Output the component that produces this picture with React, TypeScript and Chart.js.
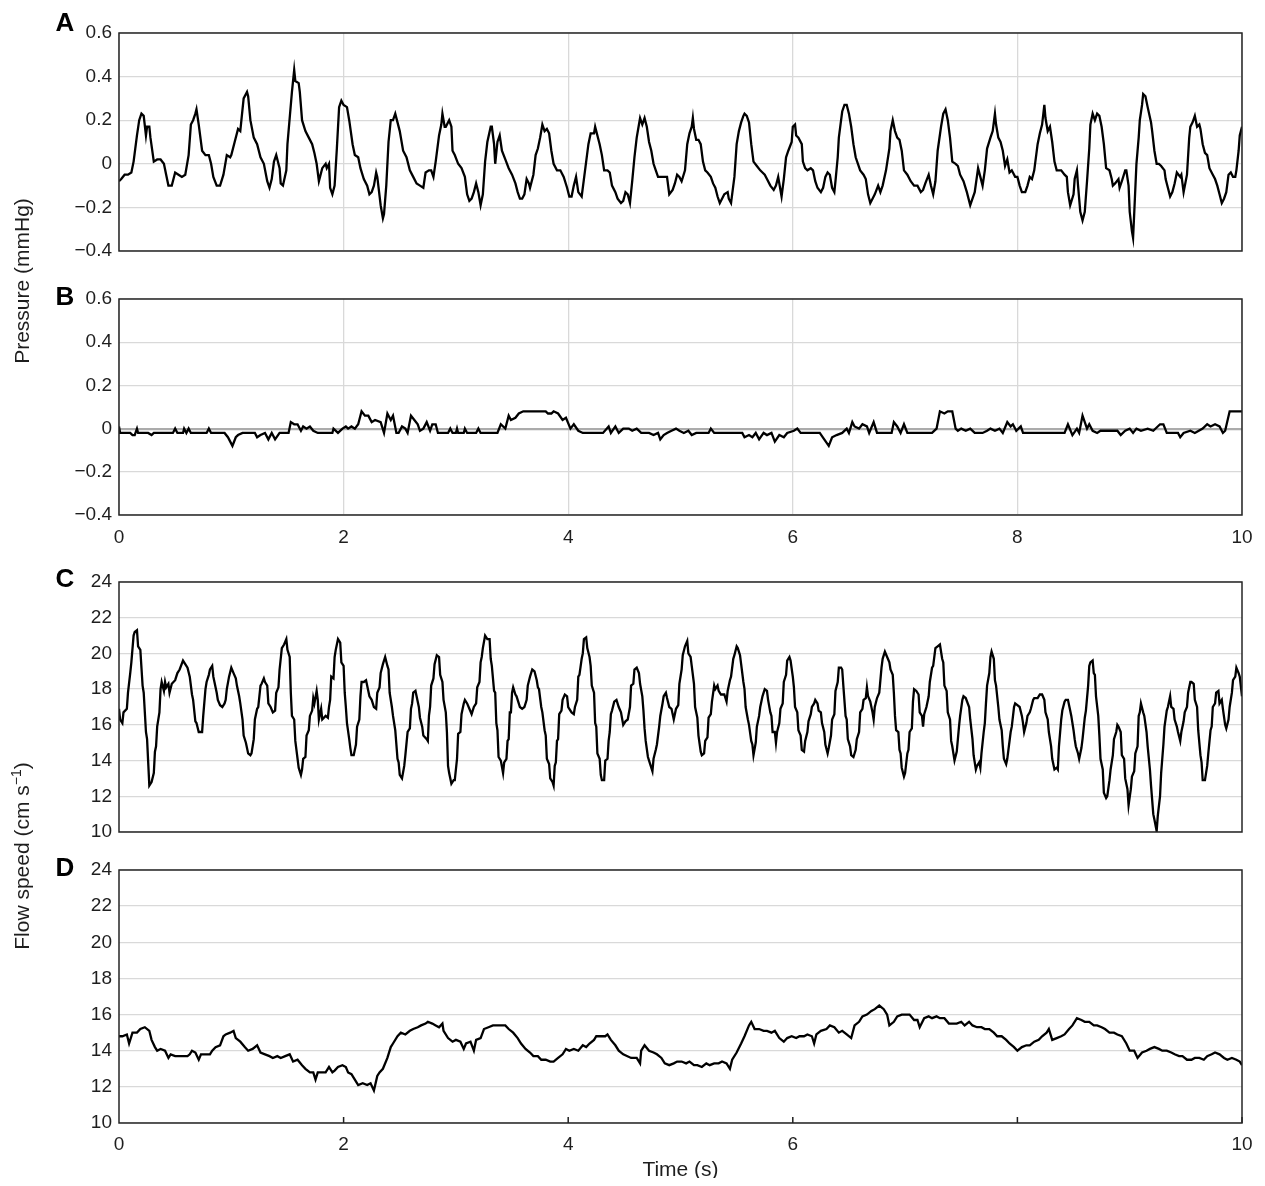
import { useEffect, useRef } from 'react';
import { Chart, registerables, type ChartConfiguration, type Plugin } from 'chart.js';

Chart.register(...registerables);

const WIDTH = 1249;
const HEIGHT = 1170;
const FONT = '"Liberation Sans", Arial, Helvetica, sans-serif';
const GRID = '#d9d9d9';
const INK = '#1e1e1e';

const timeTicks = [0, 2, 4, 6, 8, 10];
const pressureTicks = [-0.4, -0.2, 0, 0.2, 0.4, 0.6];
const flowTicks = [10, 12, 14, 16, 18, 20, 22, 24];

// [time (s), pressure (mmHg)]
const pressureA: number[][] = [
  [0, -0.08], [0.02, -0.07], [0.05, -0.05], [0.08, -0.05], [0.11, -0.04], [0.13, 0.01], [0.16, 0.13], [0.18, 0.2], [0.2, 0.23], [0.22, 0.22],
  [0.24, 0.13], [0.25, 0.17], [0.27, 0.17], [0.28, 0.12], [0.31, 0.01], [0.34, 0.02], [0.37, 0.02], [0.4, 0], [0.42, -0.05], [0.44, -0.1],
  [0.47, -0.1], [0.5, -0.04], [0.53, -0.05], [0.56, -0.06], [0.59, -0.05], [0.62, 0.04], [0.64, 0.18], [0.66, 0.2], [0.68, 0.23], [0.69, 0.25],
  [0.71, 0.18], [0.74, 0.06], [0.77, 0.04], [0.8, 0.04], [0.82, 0], [0.84, -0.06], [0.87, -0.1], [0.9, -0.1], [0.93, -0.05], [0.96, 0.04],
  [0.99, 0.03], [1.0, 0.04], [1.03, 0.1], [1.06, 0.16], [1.08, 0.15], [1.09, 0.2], [1.11, 0.3], [1.14, 0.33], [1.15, 0.31], [1.17, 0.2],
  [1.2, 0.12], [1.23, 0.09], [1.26, 0.03], [1.29, 0], [1.32, -0.08], [1.34, -0.11], [1.36, -0.07], [1.38, 0.01], [1.4, 0.04], [1.43, -0.02],
  [1.44, -0.09], [1.46, -0.1], [1.49, -0.03], [1.5, 0.09], [1.52, 0.21], [1.54, 0.33], [1.56, 0.43], [1.57, 0.38], [1.6, 0.37], [1.61, 0.33],
  [1.63, 0.2], [1.66, 0.15], [1.69, 0.12], [1.72, 0.09], [1.74, 0.05], [1.76, 0], [1.78, -0.08], [1.79, -0.06], [1.81, -0.02], [1.84, 0],
  [1.85, -0.02], [1.87, 0], [1.88, -0.11], [1.9, -0.14], [1.92, -0.1], [1.94, 0.07], [1.96, 0.26], [1.98, 0.29], [2.0, 0.27], [2.03, 0.26],
  [2.05, 0.2], [2.08, 0.09], [2.1, 0.04], [2.13, 0.03], [2.15, -0.02], [2.18, -0.07], [2.21, -0.1], [2.23, -0.14], [2.25, -0.13], [2.27, -0.1],
  [2.29, -0.04], [2.3, -0.06], [2.33, -0.19], [2.35, -0.25], [2.36, -0.23], [2.38, -0.1], [2.4, 0.1], [2.42, 0.2], [2.44, 0.2], [2.46, 0.23],
  [2.48, 0.19], [2.5, 0.15], [2.53, 0.06], [2.56, 0.03], [2.59, -0.03], [2.62, -0.06], [2.65, -0.09], [2.68, -0.1], [2.71, -0.11], [2.73, -0.04],
  [2.76, -0.03], [2.78, -0.03], [2.8, -0.06], [2.82, 0.01], [2.85, 0.13], [2.87, 0.18], [2.88, 0.23], [2.9, 0.17], [2.91, 0.17], [2.94, 0.2],
  [2.96, 0.17], [2.97, 0.06], [2.99, 0.04], [3.02, 0], [3.05, -0.02], [3.08, -0.06], [3.1, -0.14], [3.12, -0.17], [3.14, -0.16], [3.16, -0.13],
  [3.18, -0.09], [3.2, -0.13], [3.22, -0.19], [3.24, -0.14], [3.26, 0.01], [3.28, 0.1], [3.31, 0.17], [3.32, 0.17], [3.34, 0.09], [3.35, 0],
  [3.37, 0.1], [3.39, 0.13], [3.41, 0.06], [3.44, 0.02], [3.47, -0.02], [3.5, -0.05], [3.53, -0.09], [3.55, -0.13], [3.57, -0.16], [3.59, -0.16],
  [3.61, -0.14], [3.63, -0.07], [3.65, -0.09], [3.66, -0.11], [3.69, -0.05], [3.71, 0.04], [3.73, 0.07], [3.75, 0.12], [3.77, 0.18], [3.79, 0.15],
  [3.81, 0.16], [3.83, 0.14], [3.85, 0.06], [3.87, 0], [3.9, -0.03], [3.93, -0.03], [3.96, -0.06], [3.99, -0.11], [4.01, -0.15], [4.03, -0.15],
  [4.05, -0.1], [4.07, -0.06], [4.09, -0.13], [4.12, -0.15], [4.14, -0.07], [4.16, 0.01], [4.18, 0.09], [4.2, 0.14], [4.23, 0.14], [4.24, 0.17],
  [4.26, 0.13], [4.28, 0.09], [4.3, 0.04], [4.32, -0.03], [4.35, -0.03], [4.37, -0.04], [4.39, -0.1], [4.42, -0.13], [4.44, -0.16], [4.47, -0.18],
  [4.49, -0.17], [4.51, -0.13], [4.53, -0.14], [4.55, -0.18], [4.57, -0.08], [4.59, 0.03], [4.61, 0.12], [4.63, 0.18], [4.64, 0.21], [4.66, 0.18],
  [4.68, 0.21], [4.7, 0.17], [4.72, 0.1], [4.74, 0.06], [4.76, 0], [4.78, -0.03], [4.8, -0.06], [4.82, -0.06], [4.85, -0.06], [4.88, -0.06],
  [4.89, -0.1], [4.9, -0.14], [4.93, -0.12], [4.95, -0.09], [4.97, -0.05], [4.99, -0.06], [5.01, -0.08], [5.04, -0.03], [5.06, 0.09], [5.08, 0.14],
  [5.1, 0.17], [5.11, 0.21], [5.12, 0.16], [5.14, 0.11], [5.16, 0.11], [5.18, 0.09], [5.2, 0.01], [5.22, -0.03], [5.24, -0.04], [5.27, -0.06],
  [5.29, -0.09], [5.31, -0.11], [5.33, -0.15], [5.35, -0.18], [5.37, -0.16], [5.39, -0.14], [5.42, -0.13], [5.43, -0.16], [5.45, -0.18], [5.48, -0.06],
  [5.5, 0.09], [5.52, 0.15], [5.54, 0.19], [5.56, 0.22], [5.57, 0.23], [5.59, 0.22], [5.61, 0.19], [5.63, 0.09], [5.65, 0.01], [5.68, -0.01],
  [5.71, -0.03], [5.73, -0.04], [5.75, -0.05], [5.77, -0.07], [5.8, -0.1], [5.83, -0.12], [5.85, -0.1], [5.87, -0.06], [5.89, -0.12], [5.9, -0.15],
  [5.92, -0.07], [5.94, 0.03], [5.96, 0.06], [5.99, 0.1], [6.0, 0.17], [6.02, 0.18], [6.03, 0.13], [6.05, 0.12], [6.08, 0.09], [6.09, 0.01],
  [6.11, -0.02], [6.13, -0.03], [6.16, -0.02], [6.18, -0.03], [6.2, -0.08], [6.22, -0.11], [6.25, -0.13], [6.27, -0.11], [6.29, -0.06], [6.31, -0.04],
  [6.33, -0.05], [6.35, -0.11], [6.37, -0.13], [6.38, -0.08], [6.4, 0.03], [6.41, 0.12], [6.43, 0.2], [6.44, 0.24], [6.46, 0.27], [6.48, 0.27],
  [6.5, 0.23], [6.52, 0.17], [6.54, 0.09], [6.56, 0.03], [6.58, 0], [6.6, -0.03], [6.63, -0.05], [6.65, -0.07], [6.67, -0.14], [6.69, -0.18],
  [6.71, -0.16], [6.73, -0.14], [6.76, -0.1], [6.78, -0.13], [6.8, -0.1], [6.83, -0.03], [6.86, 0.07], [6.87, 0.15], [6.89, 0.2], [6.91, 0.15],
  [6.93, 0.12], [6.95, 0.11], [6.97, 0.06], [6.99, -0.03], [7.02, -0.05], [7.05, -0.08], [7.08, -0.1], [7.11, -0.1], [7.14, -0.13], [7.16, -0.12],
  [7.18, -0.09], [7.21, -0.05], [7.23, -0.1], [7.25, -0.14], [7.27, -0.08], [7.29, 0.06], [7.32, 0.17], [7.34, 0.23], [7.36, 0.25], [7.38, 0.2],
  [7.4, 0.12], [7.42, 0.01], [7.45, 0], [7.47, -0.01], [7.49, -0.05], [7.52, -0.08], [7.55, -0.13], [7.58, -0.19], [7.6, -0.16], [7.62, -0.13],
  [7.65, -0.02], [7.67, -0.06], [7.69, -0.1], [7.71, -0.03], [7.73, 0.07], [7.76, 0.12], [7.78, 0.15], [7.8, 0.23], [7.81, 0.18], [7.83, 0.12],
  [7.85, 0.1], [7.87, 0.06], [7.89, -0.01], [7.91, 0.02], [7.93, -0.04], [7.95, -0.03], [7.98, -0.06], [8.0, -0.06], [8.02, -0.1], [8.04, -0.13],
  [8.07, -0.13], [8.09, -0.1], [8.11, -0.06], [8.13, -0.07], [8.15, -0.03], [8.18, 0.09], [8.2, 0.14], [8.22, 0.18], [8.24, 0.27], [8.25, 0.21],
  [8.27, 0.15], [8.29, 0.17], [8.31, 0.1], [8.33, 0.01], [8.35, -0.03], [8.37, -0.03], [8.39, -0.03], [8.42, -0.05], [8.44, -0.06], [8.45, -0.13],
  [8.47, -0.19], [8.5, -0.14], [8.51, -0.07], [8.53, -0.03], [8.54, -0.1], [8.56, -0.22], [8.58, -0.26], [8.6, -0.22], [8.62, -0.08], [8.64, 0.07],
  [8.65, 0.18], [8.67, 0.23], [8.69, 0.2], [8.71, 0.23], [8.73, 0.22], [8.75, 0.17], [8.77, 0.09], [8.79, -0.02], [8.82, -0.03], [8.84, -0.07],
  [8.85, -0.1], [8.87, -0.09], [8.9, -0.07], [8.91, -0.11], [8.93, -0.08], [8.96, -0.03], [8.97, -0.03], [8.99, -0.1], [9.0, -0.22], [9.02, -0.31],
  [9.03, -0.34], [9.04, -0.23], [9.06, 0], [9.08, 0.12], [9.09, 0.2], [9.11, 0.27], [9.12, 0.32], [9.14, 0.31], [9.16, 0.26], [9.19, 0.19],
  [9.2, 0.15], [9.22, 0.06], [9.24, 0], [9.26, 0], [9.28, -0.01], [9.31, -0.03], [9.32, -0.07], [9.34, -0.11], [9.36, -0.15], [9.38, -0.13],
  [9.4, -0.09], [9.42, -0.04], [9.45, -0.06], [9.46, -0.05], [9.48, -0.13], [9.51, -0.05], [9.53, 0.12], [9.54, 0.17], [9.56, 0.19], [9.58, 0.22],
  [9.6, 0.17], [9.62, 0.18], [9.63, 0.16], [9.65, 0.09], [9.67, 0.05], [9.69, 0.04], [9.71, -0.02], [9.74, -0.05], [9.76, -0.07], [9.78, -0.1],
  [9.8, -0.14], [9.82, -0.18], [9.84, -0.16], [9.86, -0.13], [9.88, -0.05], [9.9, -0.04], [9.92, -0.06], [9.94, -0.06], [9.95, -0.03], [9.97, 0.06],
  [9.98, 0.13], [10, 0.17],
];

const pressureB: number[][] = [
  [0, 0.01], [0.01, -0.02], [0.1, -0.02], [0.12, -0.03], [0.14, -0.03], [0.16, 0], [0.17, -0.02], [0.26, -0.02], [0.29, -0.03], [0.31, -0.02],
  [0.48, -0.02], [0.5, 0], [0.52, -0.02], [0.57, -0.02], [0.58, 0], [0.6, -0.02], [0.62, 0], [0.64, -0.02], [0.78, -0.02], [0.8, 0],
  [0.82, -0.02], [0.94, -0.02], [0.97, -0.04], [1.01, -0.08], [1.04, -0.04], [1.06, -0.03], [1.1, -0.02], [1.21, -0.02], [1.23, -0.04], [1.26, -0.03],
  [1.3, -0.02], [1.33, -0.05], [1.36, -0.02], [1.39, -0.05], [1.43, -0.02], [1.51, -0.02], [1.53, 0.03], [1.56, 0.02], [1.59, 0.02], [1.62, -0.01],
  [1.64, 0.01], [1.67, 0], [1.7, 0.01], [1.73, -0.01], [1.77, -0.02], [1.9, -0.02], [1.91, 0], [1.95, -0.02], [1.99, 0], [2.02, 0.01],
  [2.04, 0], [2.07, 0.01], [2.1, 0], [2.13, 0.02], [2.16, 0.08], [2.19, 0.06], [2.22, 0.06], [2.25, 0.03], [2.28, 0.04], [2.33, 0.03],
  [2.36, -0.02], [2.39, 0.07], [2.42, 0.04], [2.44, 0.06], [2.47, -0.02], [2.49, -0.02], [2.52, 0.01], [2.55, 0], [2.57, -0.02], [2.6, 0.06],
  [2.63, 0.04], [2.66, 0.02], [2.68, -0.01], [2.71, 0], [2.74, 0.03], [2.77, -0.01], [2.79, 0.02], [2.82, 0.02], [2.84, -0.02], [2.93, -0.02],
  [2.95, 0], [2.97, -0.02], [3.0, -0.02], [3.01, 0], [3.02, -0.02], [3.07, -0.02], [3.08, 0], [3.1, -0.02], [3.18, -0.02], [3.2, 0],
  [3.22, -0.02], [3.37, -0.02], [3.4, 0.02], [3.44, 0], [3.47, 0.06], [3.49, 0.04], [3.53, 0.05], [3.56, 0.07], [3.6, 0.08], [3.8, 0.08],
  [3.82, 0.07], [3.85, 0.07], [3.87, 0.08], [3.91, 0.07], [3.95, 0.04], [3.98, 0.05], [4.02, 0], [4.05, 0.02], [4.09, -0.01], [4.13, -0.02],
  [4.31, -0.02], [4.36, 0.01], [4.38, -0.02], [4.42, 0.01], [4.45, -0.02], [4.49, 0], [4.54, 0], [4.57, -0.01], [4.61, 0], [4.65, -0.02],
  [4.72, -0.02], [4.76, -0.03], [4.8, -0.02], [4.82, -0.05], [4.85, -0.03], [4.88, -0.02], [4.92, -0.01], [4.96, 0], [4.99, -0.01], [5.03, -0.02],
  [5.07, -0.01], [5.1, -0.03], [5.14, -0.02], [5.25, -0.02], [5.27, 0], [5.3, -0.02], [5.55, -0.02], [5.57, -0.04], [5.61, -0.03], [5.64, -0.04],
  [5.67, -0.02], [5.7, -0.05], [5.74, -0.02], [5.77, -0.03], [5.81, -0.02], [5.84, -0.06], [5.88, -0.03], [5.92, -0.04], [5.95, -0.02], [6.01, -0.01],
  [6.04, 0], [6.07, -0.02], [6.24, -0.02], [6.28, -0.05], [6.32, -0.08], [6.35, -0.04], [6.39, -0.03], [6.44, -0.02], [6.48, 0], [6.5, -0.02],
  [6.53, 0.03], [6.55, 0.01], [6.59, 0], [6.62, 0.02], [6.66, 0.01], [6.68, -0.02], [6.72, 0.03], [6.75, -0.02], [6.88, -0.02], [6.9, 0.03],
  [6.93, 0.01], [6.96, -0.02], [6.99, 0.02], [7.02, -0.02], [7.24, -0.02], [7.28, 0], [7.31, 0.08], [7.35, 0.07], [7.38, 0.08], [7.42, 0.08],
  [7.45, 0], [7.47, -0.01], [7.5, 0], [7.54, -0.01], [7.58, 0], [7.62, -0.02], [7.69, -0.02], [7.73, -0.01], [7.76, 0], [7.8, -0.01],
  [7.84, 0], [7.87, -0.02], [7.91, 0.03], [7.94, 0.01], [7.96, 0.02], [7.99, -0.01], [8.03, 0.01], [8.05, -0.02], [8.42, -0.02], [8.45, 0.02],
  [8.49, -0.03], [8.53, 0], [8.55, -0.02], [8.58, 0.06], [8.62, 0], [8.64, 0.02], [8.67, -0.01], [8.71, -0.02], [8.74, -0.01], [8.89, -0.01],
  [8.92, -0.03], [8.96, -0.01], [9.0, 0], [9.03, -0.02], [9.06, 0], [9.1, -0.01], [9.16, 0], [9.21, -0.01], [9.27, 0.02], [9.3, 0.02],
  [9.33, -0.02], [9.43, -0.02], [9.45, -0.04], [9.48, -0.02], [9.54, -0.01], [9.58, -0.02], [9.65, 0], [9.69, 0.02], [9.72, 0.01], [9.76, 0.02],
  [9.8, 0.01], [9.83, -0.02], [9.85, -0.01], [9.89, 0.08], [10, 0.08],
];

// [time (s), flow speed (cm/s)]
const flowC: number[][] = [
  [0, 16.9], [0.01, 16.3], [0.03, 16.1], [0.04, 16.7], [0.07, 16.9], [0.08, 17.8], [0.1, 18.9], [0.11, 19.5], [0.13, 21.0], [0.14, 21.2],
  [0.16, 21.3], [0.17, 20.4], [0.19, 20.2], [0.21, 18.2], [0.22, 17.8], [0.24, 15.6], [0.25, 15.2], [0.26, 13.9], [0.27, 12.6], [0.29, 12.8],
  [0.31, 13.3], [0.32, 14.5], [0.33, 14.8], [0.34, 15.9], [0.36, 16.7], [0.37, 18.0], [0.38, 18.4], [0.4, 17.9], [0.41, 18.4], [0.42, 18.1],
  [0.44, 18.3], [0.45, 17.8], [0.47, 18.3], [0.5, 18.5], [0.52, 18.9], [0.54, 19.1], [0.57, 19.6], [0.59, 19.4], [0.61, 19.2], [0.63, 18.7],
  [0.65, 17.7], [0.66, 17.4], [0.68, 16.2], [0.69, 16.1], [0.71, 15.6], [0.74, 15.6], [0.75, 16.5], [0.77, 18.0], [0.78, 18.4], [0.8, 18.8],
  [0.81, 19.1], [0.83, 19.3], [0.84, 18.7], [0.85, 18.4], [0.87, 17.8], [0.88, 17.4], [0.9, 17.1], [0.92, 17.0], [0.94, 17.2], [0.95, 17.4],
  [0.96, 18.0], [0.98, 18.7], [1.0, 19.2], [1.02, 18.9], [1.04, 18.6], [1.05, 18.2], [1.07, 17.6], [1.08, 17.2], [1.1, 16.3], [1.11, 15.4],
  [1.13, 15.0], [1.15, 14.4], [1.17, 14.3], [1.18, 14.4], [1.2, 15.2], [1.21, 16.3], [1.23, 16.9], [1.24, 17.0], [1.26, 18.2], [1.27, 18.3],
  [1.29, 18.6], [1.3, 18.4], [1.32, 18.2], [1.33, 17.2], [1.35, 17.0], [1.37, 16.7], [1.39, 16.8], [1.4, 17.8], [1.42, 18.1], [1.43, 19.1],
  [1.45, 20.3], [1.47, 20.5], [1.49, 20.8], [1.5, 20.2], [1.52, 19.8], [1.53, 17.8], [1.54, 16.5], [1.56, 16.3], [1.57, 15.1], [1.58, 14.6],
  [1.6, 13.6], [1.62, 13.2], [1.63, 13.5], [1.64, 14.1], [1.66, 14.2], [1.67, 15.4], [1.69, 15.7], [1.7, 16.5], [1.72, 16.8], [1.73, 17.5],
  [1.74, 17.2], [1.76, 17.9], [1.77, 17.4], [1.78, 16.3], [1.8, 16.9], [1.81, 16.3], [1.84, 16.5], [1.86, 16.4], [1.87, 17.0], [1.88, 17.4],
  [1.89, 18.7], [1.91, 18.6], [1.92, 19.8], [1.93, 20.2], [1.95, 20.8], [1.97, 20.6], [1.98, 19.5], [2.0, 19.3], [2.01, 17.8], [2.02, 17.0],
  [2.03, 16.1], [2.05, 15.2], [2.06, 14.7], [2.07, 14.3], [2.09, 14.3], [2.11, 14.9], [2.12, 15.9], [2.14, 16.3], [2.15, 17.6], [2.16, 18.4],
  [2.18, 18.4], [2.2, 18.5], [2.22, 17.9], [2.23, 17.6], [2.25, 17.4], [2.27, 17.0], [2.29, 16.9], [2.3, 17.8], [2.32, 18.1], [2.33, 18.9],
  [2.35, 19.4], [2.37, 19.8], [2.39, 19.3], [2.4, 19.1], [2.41, 17.8], [2.43, 17.0], [2.44, 16.5], [2.46, 15.7], [2.47, 14.9], [2.48, 14.1],
  [2.49, 13.9], [2.5, 13.2], [2.52, 13.0], [2.54, 13.7], [2.55, 14.3], [2.57, 15.6], [2.59, 15.8], [2.6, 16.9], [2.61, 17.2], [2.62, 17.8],
  [2.64, 17.9], [2.65, 17.6], [2.67, 17.0], [2.68, 16.4], [2.7, 15.9], [2.71, 15.4], [2.74, 15.2], [2.75, 15.1], [2.76, 16.5], [2.77, 17.0],
  [2.78, 18.2], [2.8, 18.6], [2.81, 19.4], [2.83, 19.9], [2.85, 19.8], [2.86, 18.8], [2.88, 18.4], [2.89, 17.4], [2.91, 16.7], [2.92, 15.6],
  [2.93, 13.7], [2.94, 13.3], [2.96, 12.7], [2.98, 12.9], [2.99, 12.9], [3.01, 14.1], [3.02, 15.5], [3.04, 15.6], [3.05, 16.6], [3.07, 17.2],
  [3.08, 17.4], [3.1, 17.2], [3.12, 16.9], [3.14, 16.6], [3.16, 17.0], [3.18, 17.2], [3.19, 18.1], [3.21, 18.4], [3.22, 19.5], [3.23, 19.8],
  [3.24, 20.3], [3.26, 21.0], [3.28, 20.8], [3.3, 20.8], [3.31, 19.7], [3.32, 19.3], [3.34, 17.9], [3.35, 17.8], [3.36, 16.1], [3.37, 15.7],
  [3.38, 14.2], [3.4, 14.0], [3.42, 13.3], [3.43, 13.9], [3.45, 14.1], [3.46, 15.1], [3.47, 15.2], [3.48, 16.7], [3.49, 16.7], [3.5, 17.8],
  [3.51, 18.1], [3.53, 17.7], [3.54, 17.6], [3.57, 17.0], [3.59, 16.9], [3.61, 17.0], [3.63, 17.4], [3.64, 18.2], [3.66, 18.7], [3.68, 19.1],
  [3.7, 19.0], [3.72, 18.5], [3.73, 18.1], [3.74, 18.0], [3.76, 17.0], [3.77, 16.7], [3.79, 15.7], [3.8, 15.4], [3.81, 14.1], [3.83, 13.8],
  [3.84, 13.0], [3.86, 12.8], [3.87, 12.6], [3.88, 13.7], [3.89, 13.9], [3.9, 15.1], [3.91, 15.2], [3.92, 16.6], [3.94, 16.8], [3.95, 17.4],
  [3.97, 17.7], [3.99, 17.6], [4.0, 17.0], [4.03, 16.7], [4.05, 16.6], [4.06, 17.0], [4.08, 17.4], [4.09, 18.7], [4.1, 18.8], [4.12, 19.7],
  [4.13, 20.0], [4.14, 20.8], [4.16, 20.9], [4.17, 20.3], [4.19, 19.8], [4.2, 19.3], [4.21, 18.2], [4.23, 17.8], [4.24, 16.1], [4.25, 15.9],
  [4.26, 14.4], [4.28, 14.1], [4.29, 13.2], [4.3, 12.9], [4.32, 12.9], [4.33, 14.0], [4.35, 14.1], [4.36, 15.1], [4.37, 15.6], [4.38, 16.6],
  [4.39, 16.8], [4.41, 17.3], [4.43, 17.4], [4.45, 17.0], [4.47, 16.7], [4.49, 16.0], [4.51, 16.2], [4.53, 16.3], [4.55, 17.0], [4.56, 18.2],
  [4.58, 18.3], [4.59, 19.1], [4.61, 19.2], [4.63, 18.9], [4.64, 18.3], [4.66, 17.6], [4.67, 16.8], [4.68, 15.8], [4.69, 15.1], [4.71, 14.2],
  [4.73, 13.8], [4.75, 13.4], [4.76, 14.1], [4.78, 14.6], [4.79, 14.9], [4.81, 15.9], [4.82, 16.5], [4.84, 17.2], [4.85, 17.6], [4.87, 17.8],
  [4.88, 17.5], [4.9, 17.0], [4.92, 16.9], [4.94, 16.3], [4.96, 16.9], [4.98, 17.1], [4.99, 18.3], [5.01, 19.1], [5.02, 19.9], [5.04, 20.4],
  [5.06, 20.7], [5.07, 20.0], [5.09, 19.8], [5.1, 19.3], [5.12, 18.3], [5.13, 17.0], [5.15, 16.4], [5.16, 15.4], [5.18, 14.5], [5.19, 14.3],
  [5.21, 14.4], [5.22, 15.1], [5.24, 15.3], [5.25, 16.4], [5.27, 16.6], [5.28, 17.3], [5.3, 18.2], [5.31, 18.0], [5.33, 18.2], [5.34, 17.9],
  [5.36, 17.7], [5.39, 17.7], [5.41, 17.3], [5.42, 17.9], [5.44, 18.5], [5.45, 18.7], [5.47, 19.7], [5.48, 19.9], [5.5, 20.4], [5.51, 20.3],
  [5.53, 19.9], [5.54, 19.4], [5.56, 18.4], [5.57, 18.0], [5.58, 17.0], [5.6, 16.3], [5.61, 16.0], [5.63, 15.1], [5.64, 14.9], [5.65, 14.3],
  [5.67, 15.0], [5.68, 15.9], [5.7, 16.5], [5.71, 17.0], [5.73, 17.6], [5.75, 18.0], [5.77, 17.9], [5.78, 17.4], [5.8, 16.7], [5.81, 16.5],
  [5.82, 15.6], [5.84, 15.6], [5.85, 15.0], [5.86, 15.6], [5.88, 16.1], [5.89, 16.9], [5.91, 17.2], [5.92, 18.4], [5.94, 18.8], [5.95, 19.6],
  [5.97, 19.8], [5.98, 19.6], [6.0, 18.7], [6.01, 18.1], [6.02, 17.0], [6.04, 16.7], [6.05, 15.7], [6.07, 15.4], [6.08, 14.6], [6.1, 14.5],
  [6.11, 15.1], [6.13, 15.6], [6.14, 16.2], [6.16, 16.6], [6.17, 17.0], [6.19, 17.2], [6.2, 17.4], [6.22, 17.2], [6.23, 16.8], [6.25, 16.7],
  [6.26, 16.1], [6.28, 15.6], [6.29, 14.9], [6.31, 14.4], [6.32, 14.7], [6.34, 15.4], [6.35, 16.3], [6.37, 16.6], [6.38, 17.9], [6.4, 18.4],
  [6.41, 19.2], [6.43, 19.2], [6.44, 19.1], [6.45, 18.2], [6.47, 16.5], [6.48, 16.3], [6.49, 15.2], [6.51, 14.8], [6.52, 14.3], [6.54, 14.2],
  [6.56, 14.6], [6.57, 15.2], [6.59, 15.6], [6.6, 16.7], [6.62, 16.9], [6.63, 17.4], [6.65, 17.5], [6.66, 18.1], [6.67, 17.6], [6.69, 17.3],
  [6.71, 16.7], [6.72, 16.3], [6.73, 17.0], [6.75, 17.5], [6.77, 17.8], [6.78, 18.5], [6.79, 19.2], [6.8, 19.7], [6.82, 20.1], [6.84, 19.8],
  [6.86, 19.5], [6.87, 19.1], [6.89, 18.8], [6.9, 17.8], [6.91, 16.5], [6.92, 15.7], [6.94, 15.6], [6.95, 14.6], [6.96, 14.4], [6.97, 13.6],
  [6.99, 13.1], [7.0, 13.3], [7.02, 14.4], [7.03, 14.6], [7.04, 15.6], [7.06, 15.8], [7.07, 17.3], [7.08, 18.0], [7.1, 17.9], [7.12, 17.7],
  [7.13, 16.7], [7.15, 16.5], [7.16, 15.9], [7.17, 16.6], [7.19, 17.0], [7.21, 17.6], [7.22, 18.4], [7.24, 19.2], [7.25, 19.3], [7.27, 20.3],
  [7.29, 20.4], [7.31, 20.5], [7.33, 19.7], [7.34, 19.5], [7.35, 18.2], [7.37, 17.9], [7.38, 16.7], [7.4, 16.3], [7.41, 15.1], [7.42, 14.8],
  [7.43, 14.4], [7.44, 14.0], [7.46, 14.5], [7.47, 15.2], [7.48, 15.9], [7.49, 16.5], [7.51, 17.4], [7.52, 17.6], [7.54, 17.5], [7.57, 17.0],
  [7.58, 16.3], [7.6, 15.2], [7.61, 14.3], [7.63, 13.5], [7.64, 13.7], [7.66, 13.9], [7.67, 13.6], [7.68, 14.4], [7.7, 15.6], [7.71, 16.1],
  [7.72, 17.2], [7.73, 18.2], [7.75, 18.9], [7.76, 19.8], [7.77, 20.1], [7.79, 19.7], [7.8, 18.5], [7.81, 18.2], [7.83, 17.0], [7.84, 16.3],
  [7.86, 15.7], [7.87, 14.8], [7.88, 14.1], [7.9, 13.8], [7.91, 14.1], [7.92, 14.6], [7.94, 15.6], [7.95, 15.9], [7.97, 17.0], [7.98, 17.2],
  [8.0, 17.1], [8.02, 17.0], [8.04, 16.5], [8.05, 16.1], [8.06, 15.6], [8.08, 16.1], [8.09, 16.5], [8.11, 16.7], [8.12, 16.9], [8.14, 17.4],
  [8.15, 17.5], [8.18, 17.5], [8.2, 17.7], [8.22, 17.7], [8.24, 17.4], [8.25, 16.7], [8.27, 16.3], [8.28, 15.6], [8.3, 14.8], [8.31, 14.1],
  [8.33, 13.5], [8.35, 13.6], [8.36, 13.5], [8.37, 14.8], [8.39, 16.3], [8.4, 16.8], [8.42, 17.3], [8.43, 17.4], [8.45, 17.4], [8.47, 16.8],
  [8.48, 16.5], [8.5, 15.7], [8.51, 15.2], [8.52, 14.8], [8.54, 14.4], [8.55, 14.1], [8.57, 14.7], [8.58, 15.2], [8.6, 16.4], [8.61, 16.8],
  [8.63, 18.2], [8.64, 19.3], [8.65, 19.5], [8.67, 19.6], [8.68, 18.9], [8.69, 18.8], [8.7, 17.6], [8.72, 16.5], [8.73, 15.4], [8.74, 14.1],
  [8.76, 13.5], [8.77, 12.2], [8.79, 11.9], [8.8, 12.0], [8.82, 12.9], [8.83, 13.5], [8.85, 14.3], [8.86, 15.2], [8.88, 15.6], [8.89, 16.0],
  [8.9, 15.9], [8.92, 15.6], [8.93, 14.3], [8.95, 14.1], [8.96, 13.0], [8.98, 12.4], [8.99, 11.5], [9.01, 12.4], [9.02, 13.1], [9.04, 13.4],
  [9.05, 14.4], [9.07, 14.8], [9.08, 16.5], [9.09, 16.7], [9.1, 17.2], [9.12, 16.7], [9.13, 16.5], [9.15, 15.6], [9.16, 14.8], [9.18, 13.5],
  [9.19, 12.6], [9.21, 11.0], [9.22, 10.7], [9.24, 10.05], [9.25, 10.9], [9.27, 12.0], [9.28, 13.3], [9.3, 14.9], [9.31, 15.9], [9.33, 16.8],
  [9.34, 17.0], [9.36, 17.6], [9.37, 17.0], [9.39, 16.9], [9.4, 16.3], [9.42, 15.9], [9.43, 15.6], [9.45, 15.1], [9.46, 15.6], [9.48, 16.2],
  [9.49, 16.7], [9.51, 17.0], [9.52, 17.8], [9.54, 18.4], [9.55, 18.4], [9.57, 18.3], [9.58, 17.4], [9.6, 17.0], [9.61, 15.7], [9.63, 14.3],
  [9.64, 13.9], [9.65, 12.9], [9.67, 12.9], [9.69, 13.7], [9.7, 14.4], [9.72, 15.7], [9.73, 15.9], [9.74, 17.0], [9.76, 17.2], [9.77, 17.8],
  [9.79, 17.9], [9.8, 17.2], [9.82, 17.4], [9.83, 16.9], [9.85, 16.0], [9.86, 15.8], [9.88, 16.3], [9.89, 17.0], [9.91, 17.8], [9.92, 18.5],
  [9.94, 18.7], [9.95, 19.2], [9.97, 18.9], [9.98, 18.7], [10, 17.6],
];

const flowD: number[][] = [
  [0, 14.8], [0.03, 14.8], [0.07, 14.9], [0.09, 14.4], [0.12, 15.0], [0.16, 15.0], [0.19, 15.2], [0.23, 15.3], [0.27, 15.1], [0.29, 14.6],
  [0.32, 14.2], [0.34, 14.0], [0.37, 14.1], [0.41, 14.0], [0.44, 13.6], [0.46, 13.8], [0.5, 13.7], [0.56, 13.7], [0.61, 13.7], [0.63, 13.8],
  [0.65, 14.0], [0.68, 13.9], [0.71, 13.5], [0.73, 13.8], [0.77, 13.8], [0.81, 13.8], [0.83, 14.0], [0.86, 14.2], [0.9, 14.3], [0.93, 14.8],
  [0.95, 14.9], [0.99, 15.0], [1.02, 15.1], [1.04, 14.7], [1.08, 14.5], [1.12, 14.2], [1.15, 14.0], [1.19, 14.1], [1.23, 14.3], [1.26, 13.9],
  [1.3, 13.8], [1.34, 13.7], [1.37, 13.6], [1.41, 13.7], [1.44, 13.6], [1.48, 13.7], [1.52, 13.8], [1.55, 13.4], [1.59, 13.5], [1.63, 13.2],
  [1.66, 13.0], [1.7, 12.8], [1.73, 12.8], [1.75, 12.4], [1.77, 12.8], [1.81, 12.8], [1.84, 12.8], [1.87, 13.1], [1.9, 12.8], [1.92, 12.9],
  [1.95, 13.1], [1.99, 13.2], [2.02, 13.1], [2.04, 12.8], [2.07, 12.7], [2.1, 12.4], [2.13, 12.1], [2.17, 12.2], [2.21, 12.1], [2.24, 12.2],
  [2.27, 11.8], [2.3, 12.6], [2.32, 12.8], [2.35, 13.0], [2.39, 13.6], [2.42, 14.2], [2.44, 14.4], [2.48, 14.8], [2.51, 15.0], [2.55, 14.9],
  [2.59, 15.1], [2.62, 15.2], [2.66, 15.3], [2.69, 15.4], [2.73, 15.5], [2.75, 15.6], [2.79, 15.5], [2.82, 15.4], [2.85, 15.3], [2.88, 15.5],
  [2.89, 15.1], [2.93, 14.7], [2.97, 14.5], [3.0, 14.6], [3.04, 14.5], [3.07, 14.1], [3.09, 14.4], [3.13, 14.5], [3.16, 14.0], [3.18, 14.6],
  [3.22, 14.7], [3.25, 15.2], [3.29, 15.3], [3.33, 15.4], [3.38, 15.4], [3.44, 15.4], [3.47, 15.2], [3.51, 15.0], [3.55, 14.7], [3.58, 14.4],
  [3.62, 14.1], [3.66, 13.9], [3.69, 13.7], [3.73, 13.7], [3.76, 13.5], [3.8, 13.5], [3.84, 13.4], [3.87, 13.4], [3.91, 13.6], [3.95, 13.8],
  [3.98, 14.1], [4.01, 14.0], [4.05, 14.1], [4.09, 14.0], [4.13, 14.3], [4.16, 14.2], [4.19, 14.4], [4.23, 14.6], [4.25, 14.8], [4.29, 14.8],
  [4.33, 14.8], [4.35, 14.9], [4.38, 14.6], [4.42, 14.3], [4.45, 14.0], [4.49, 13.8], [4.56, 13.6], [4.61, 13.6], [4.64, 13.3], [4.65, 14.0],
  [4.68, 14.3], [4.72, 14.0], [4.76, 13.9], [4.79, 13.8], [4.83, 13.6], [4.86, 13.3], [4.9, 13.2], [4.94, 13.3], [4.97, 13.4], [5.01, 13.4],
  [5.05, 13.3], [5.08, 13.4], [5.12, 13.2], [5.15, 13.2], [5.19, 13.1], [5.23, 13.3], [5.26, 13.2], [5.3, 13.3], [5.34, 13.3], [5.37, 13.4],
  [5.41, 13.3], [5.44, 13.0], [5.46, 13.5], [5.5, 13.9], [5.54, 14.4], [5.57, 14.8], [5.61, 15.4], [5.63, 15.6], [5.66, 15.2], [5.7, 15.2],
  [5.74, 15.1], [5.77, 15.1], [5.81, 15.0], [5.84, 15.1], [5.88, 14.7], [5.92, 14.5], [5.95, 14.7], [5.99, 14.8], [6.03, 14.7], [6.06, 14.8],
  [6.1, 14.8], [6.13, 14.9], [6.17, 14.8], [6.19, 14.4], [6.21, 14.9], [6.25, 15.1], [6.3, 15.2], [6.33, 15.4], [6.37, 15.3], [6.41, 15.0],
  [6.44, 15.1], [6.48, 14.9], [6.52, 14.7], [6.55, 15.4], [6.59, 15.6], [6.62, 15.9], [6.66, 16.0], [6.7, 16.2], [6.73, 16.3], [6.77, 16.5],
  [6.81, 16.3], [6.84, 16.0], [6.86, 15.4], [6.9, 15.6], [6.93, 15.9], [6.97, 16.0], [7.01, 16.0], [7.04, 16.0], [7.08, 15.7], [7.11, 15.7],
  [7.13, 15.3], [7.17, 15.8], [7.21, 15.9], [7.24, 15.8], [7.28, 15.9], [7.31, 15.8], [7.35, 15.8], [7.39, 15.5], [7.42, 15.5], [7.46, 15.5],
  [7.5, 15.6], [7.53, 15.4], [7.57, 15.6], [7.6, 15.4], [7.64, 15.3], [7.68, 15.3], [7.71, 15.2], [7.75, 15.2], [7.79, 15.0], [7.82, 14.8],
  [7.86, 14.8], [7.9, 14.6], [7.93, 14.4], [7.97, 14.2], [8.0, 14.0], [8.04, 14.2], [8.08, 14.3], [8.11, 14.3], [8.15, 14.5], [8.19, 14.6],
  [8.22, 14.8], [8.26, 15.0], [8.28, 15.2], [8.31, 14.6], [8.35, 14.7], [8.39, 14.8], [8.42, 14.9], [8.46, 15.2], [8.49, 15.4], [8.53, 15.8],
  [8.57, 15.7], [8.6, 15.6], [8.64, 15.6], [8.68, 15.4], [8.71, 15.4], [8.75, 15.3], [8.78, 15.2], [8.82, 15.0], [8.86, 15.0], [8.89, 14.9],
  [8.93, 14.8], [8.97, 14.4], [9.0, 14.0], [9.04, 14.0], [9.07, 13.6], [9.11, 13.9], [9.15, 14.0], [9.18, 14.1], [9.22, 14.2], [9.26, 14.1],
  [9.29, 14.0], [9.33, 14.0], [9.37, 13.9], [9.4, 13.8], [9.44, 13.7], [9.47, 13.7], [9.51, 13.5], [9.55, 13.5], [9.58, 13.6], [9.62, 13.6],
  [9.66, 13.5], [9.69, 13.7], [9.73, 13.8], [9.76, 13.9], [9.8, 13.8], [9.84, 13.6], [9.87, 13.5], [9.91, 13.6], [9.95, 13.5], [9.98, 13.4],
  [10, 13.2],
];

interface TitlePart {
  text: string;
  sup?: boolean;
}

interface PanelSpec {
  letter: string;
  letterDy: number;
  data: number[][];
  yTicks: number[];
  decimals: number;
  top: number;
  bottom: number;
  xLabels: boolean;
  xGrid: boolean;
  xAxisHeight: number;
  labelPad: number;
  hiddenTimes?: number[];
  zeroLine?: boolean;
  innerTicks?: boolean;
  xTitle?: string;
  yTitle?: TitlePart[];
  yTitleDy?: number;
}

const PLOT_LEFT = 111;
const PLOT_RIGHT = 1234;
const Y_AXIS_W = 60;

const panels: PanelSpec[] = [
  { letter: 'A', letterDy: -2, data: pressureA, yTicks: pressureTicks, decimals: 1, top: 25, bottom: 243, xLabels: false, xGrid: true, xAxisHeight: 0, labelPad: 0 },
  {
    letter: 'B', letterDy: 6, data: pressureB, yTicks: pressureTicks, decimals: 1, top: 291, bottom: 507, xLabels: true, xGrid: true, xAxisHeight: 40, labelPad: 11,
    zeroLine: true, yTitle: [{ text: 'Pressure (mmHg)' }], yTitleDy: -18,
  },
  { letter: 'C', letterDy: 5, data: flowC, yTicks: flowTicks, decimals: 0, top: 574, bottom: 824, xLabels: false, xGrid: false, xAxisHeight: 0, labelPad: 0 },
  {
    letter: 'D', letterDy: 6, data: flowD, yTicks: flowTicks, decimals: 0, top: 862, bottom: 1115, xLabels: true, xGrid: false, xAxisHeight: 60, labelPad: 10,
    hiddenTimes: [8], innerTicks: true, xTitle: 'Time (s)',
    yTitle: [{ text: 'Flow speed (cm s' }, { text: '\u22121', sup: true }, { text: ')' }], yTitleDy: -14,
  },
];

const fmt = (v: number, decimals: number) => {
  if (Math.abs(v) < 1e-9) return '0';
  return (v < 0 ? '\u2212' : '') + Math.abs(v).toFixed(decimals);
};

const panelDecor: Plugin<'line'> = {
  id: 'panelDecor',
  afterDatasetsDraw(chart, _args, opts: any) {
    const { ctx, chartArea: a } = chart;
    ctx.save();

    if (opts.innerTicks) {
      const xs = chart.scales.x;
      ctx.strokeStyle = INK;
      ctx.lineWidth = 1.5;
      xs.ticks.forEach((t) => {
        if (t.value <= xs.min) return;
        const px = xs.getPixelForValue(t.value);
        ctx.beginPath();
        ctx.moveTo(px, a.bottom);
        ctx.lineTo(px, a.bottom - 6);
        ctx.stroke();
      });
    }

    ctx.strokeStyle = '#262626';
    ctx.lineWidth = 1.5;
    ctx.strokeRect(a.left, a.top, a.right - a.left, a.bottom - a.top);

    ctx.fillStyle = '#000';
    ctx.font = `bold 26px ${FONT}`;
    ctx.textAlign = 'center';
    ctx.textBaseline = 'alphabetic';
    ctx.fillText(opts.letter, a.left - 54, a.top + opts.letterDy);

    const parts: TitlePart[] | undefined = opts.yTitle;
    if (parts) {
      const big = `21px ${FONT}`;
      const small = `14px ${FONT}`;
      ctx.translate(a.left - 96, a.top + opts.yTitleDy);
      ctx.rotate(-Math.PI / 2);
      let total = 0;
      parts.forEach((p) => {
        ctx.font = p.sup ? small : big;
        total += ctx.measureText(p.text).width;
      });
      let x = -total / 2;
      ctx.fillStyle = INK;
      ctx.textAlign = 'left';
      ctx.textBaseline = 'middle';
      parts.forEach((p) => {
        ctx.font = p.sup ? small : big;
        ctx.fillText(p.text, x, p.sup ? -6 : 0);
        x += ctx.measureText(p.text).width;
      });
    }
    ctx.restore();
  },
};

function TracePanel({ spec }: { spec: PanelSpec }) {
  const canvasRef = useRef<HTMLCanvasElement>(null);
  const chartRef = useRef<Chart<'line'> | null>(null);

  useEffect(() => {
    const canvas = canvasRef.current;
    if (!canvas) return;
    chartRef.current?.destroy();

    const hidden = spec.hiddenTimes ?? [];
    const tickFont = { family: FONT, size: 19 };

    const config: ChartConfiguration<'line'> = {
      type: 'line',
      data: {
        datasets: [
          {
            data: spec.data.map(([x, y]) => ({ x, y })),
            borderColor: '#000',
            borderWidth: 2.3,
            pointRadius: 0,
            tension: 0,
            fill: false,
          },
        ],
      },
      options: {
        animation: false,
        responsive: false,
        maintainAspectRatio: false,
        events: [],
        layout: {
          padding: {
            left: PLOT_LEFT - Y_AXIS_W,
            right: WIDTH - PLOT_RIGHT,
            top: spec.top,
            bottom: HEIGHT - spec.bottom - spec.xAxisHeight,
          },
        },
        plugins: {
          legend: { display: false },
          tooltip: { enabled: false },
          // @ts-ignore custom plugin options
          panelDecor: {
            letter: spec.letter,
            letterDy: spec.letterDy,
            innerTicks: spec.innerTicks,
            yTitle: spec.yTitle,
            yTitleDy: spec.yTitleDy,
          },
        },
        scales: {
          x: {
            type: 'linear',
            min: 0,
            max: 10,
            afterBuildTicks: (s) => {
              s.ticks = timeTicks.map((value) => ({ value }));
            },
            afterFit: (s) => {
              s.height = spec.xAxisHeight;
              // keep the edge labels from squeezing the plot area
              s.paddingLeft = 0;
              s.paddingRight = 0;
            },
            border: { display: false },
            grid: { display: spec.xGrid, drawTicks: false, color: GRID, lineWidth: 1.3 },
            ticks: {
              display: spec.xLabels,
              padding: spec.labelPad,
              color: INK,
              font: tickFont,
              maxRotation: 0,
              autoSkip: false,
              callback: (v) => (hidden.includes(Number(v)) ? '' : String(v)),
            },
            title: {
              display: !!spec.xTitle,
              text: spec.xTitle ?? '',
              color: INK,
              font: { family: FONT, size: 21 },
              padding: { top: 0, bottom: 0 },
            },
          },
          y: {
            type: 'linear',
            min: spec.yTicks[0],
            max: spec.yTicks[spec.yTicks.length - 1],
            afterBuildTicks: (s) => {
              s.ticks = spec.yTicks.map((value) => ({ value }));
            },
            afterFit: (s) => {
              s.width = Y_AXIS_W;
              s.paddingTop = 0;
              s.paddingBottom = 0;
            },
            border: { display: false },
            grid: {
              drawTicks: false,
              color: (c) => (spec.zeroLine && Math.abs(c.tick.value) < 1e-9 ? '#ababab' : GRID),
              lineWidth: (c) => (spec.zeroLine && Math.abs(c.tick.value) < 1e-9 ? 2.2 : 1.3),
            },
            ticks: {
              padding: 7,
              color: INK,
              font: tickFont,
              callback: (v) => fmt(Number(v), spec.decimals),
            },
          },
        },
      },
      plugins: [panelDecor],
    };

    chartRef.current = new Chart(canvas, config);
    return () => {
      chartRef.current?.destroy();
      chartRef.current = null;
    };
  }, [spec]);

  return (
    <canvas
      ref={canvasRef}
      width={WIDTH}
      height={HEIGHT}
      style={{ position: 'absolute', left: 0, top: 0, width: WIDTH, height: HEIGHT }}
    />
  );
}

export default function App() {
  return (
    <div style={{ position: 'relative', width: WIDTH, height: HEIGHT, background: '#fff' }}>
      {panels.map((p) => (
        <TracePanel key={p.letter} spec={p} />
      ))}
    </div>
  );
}
